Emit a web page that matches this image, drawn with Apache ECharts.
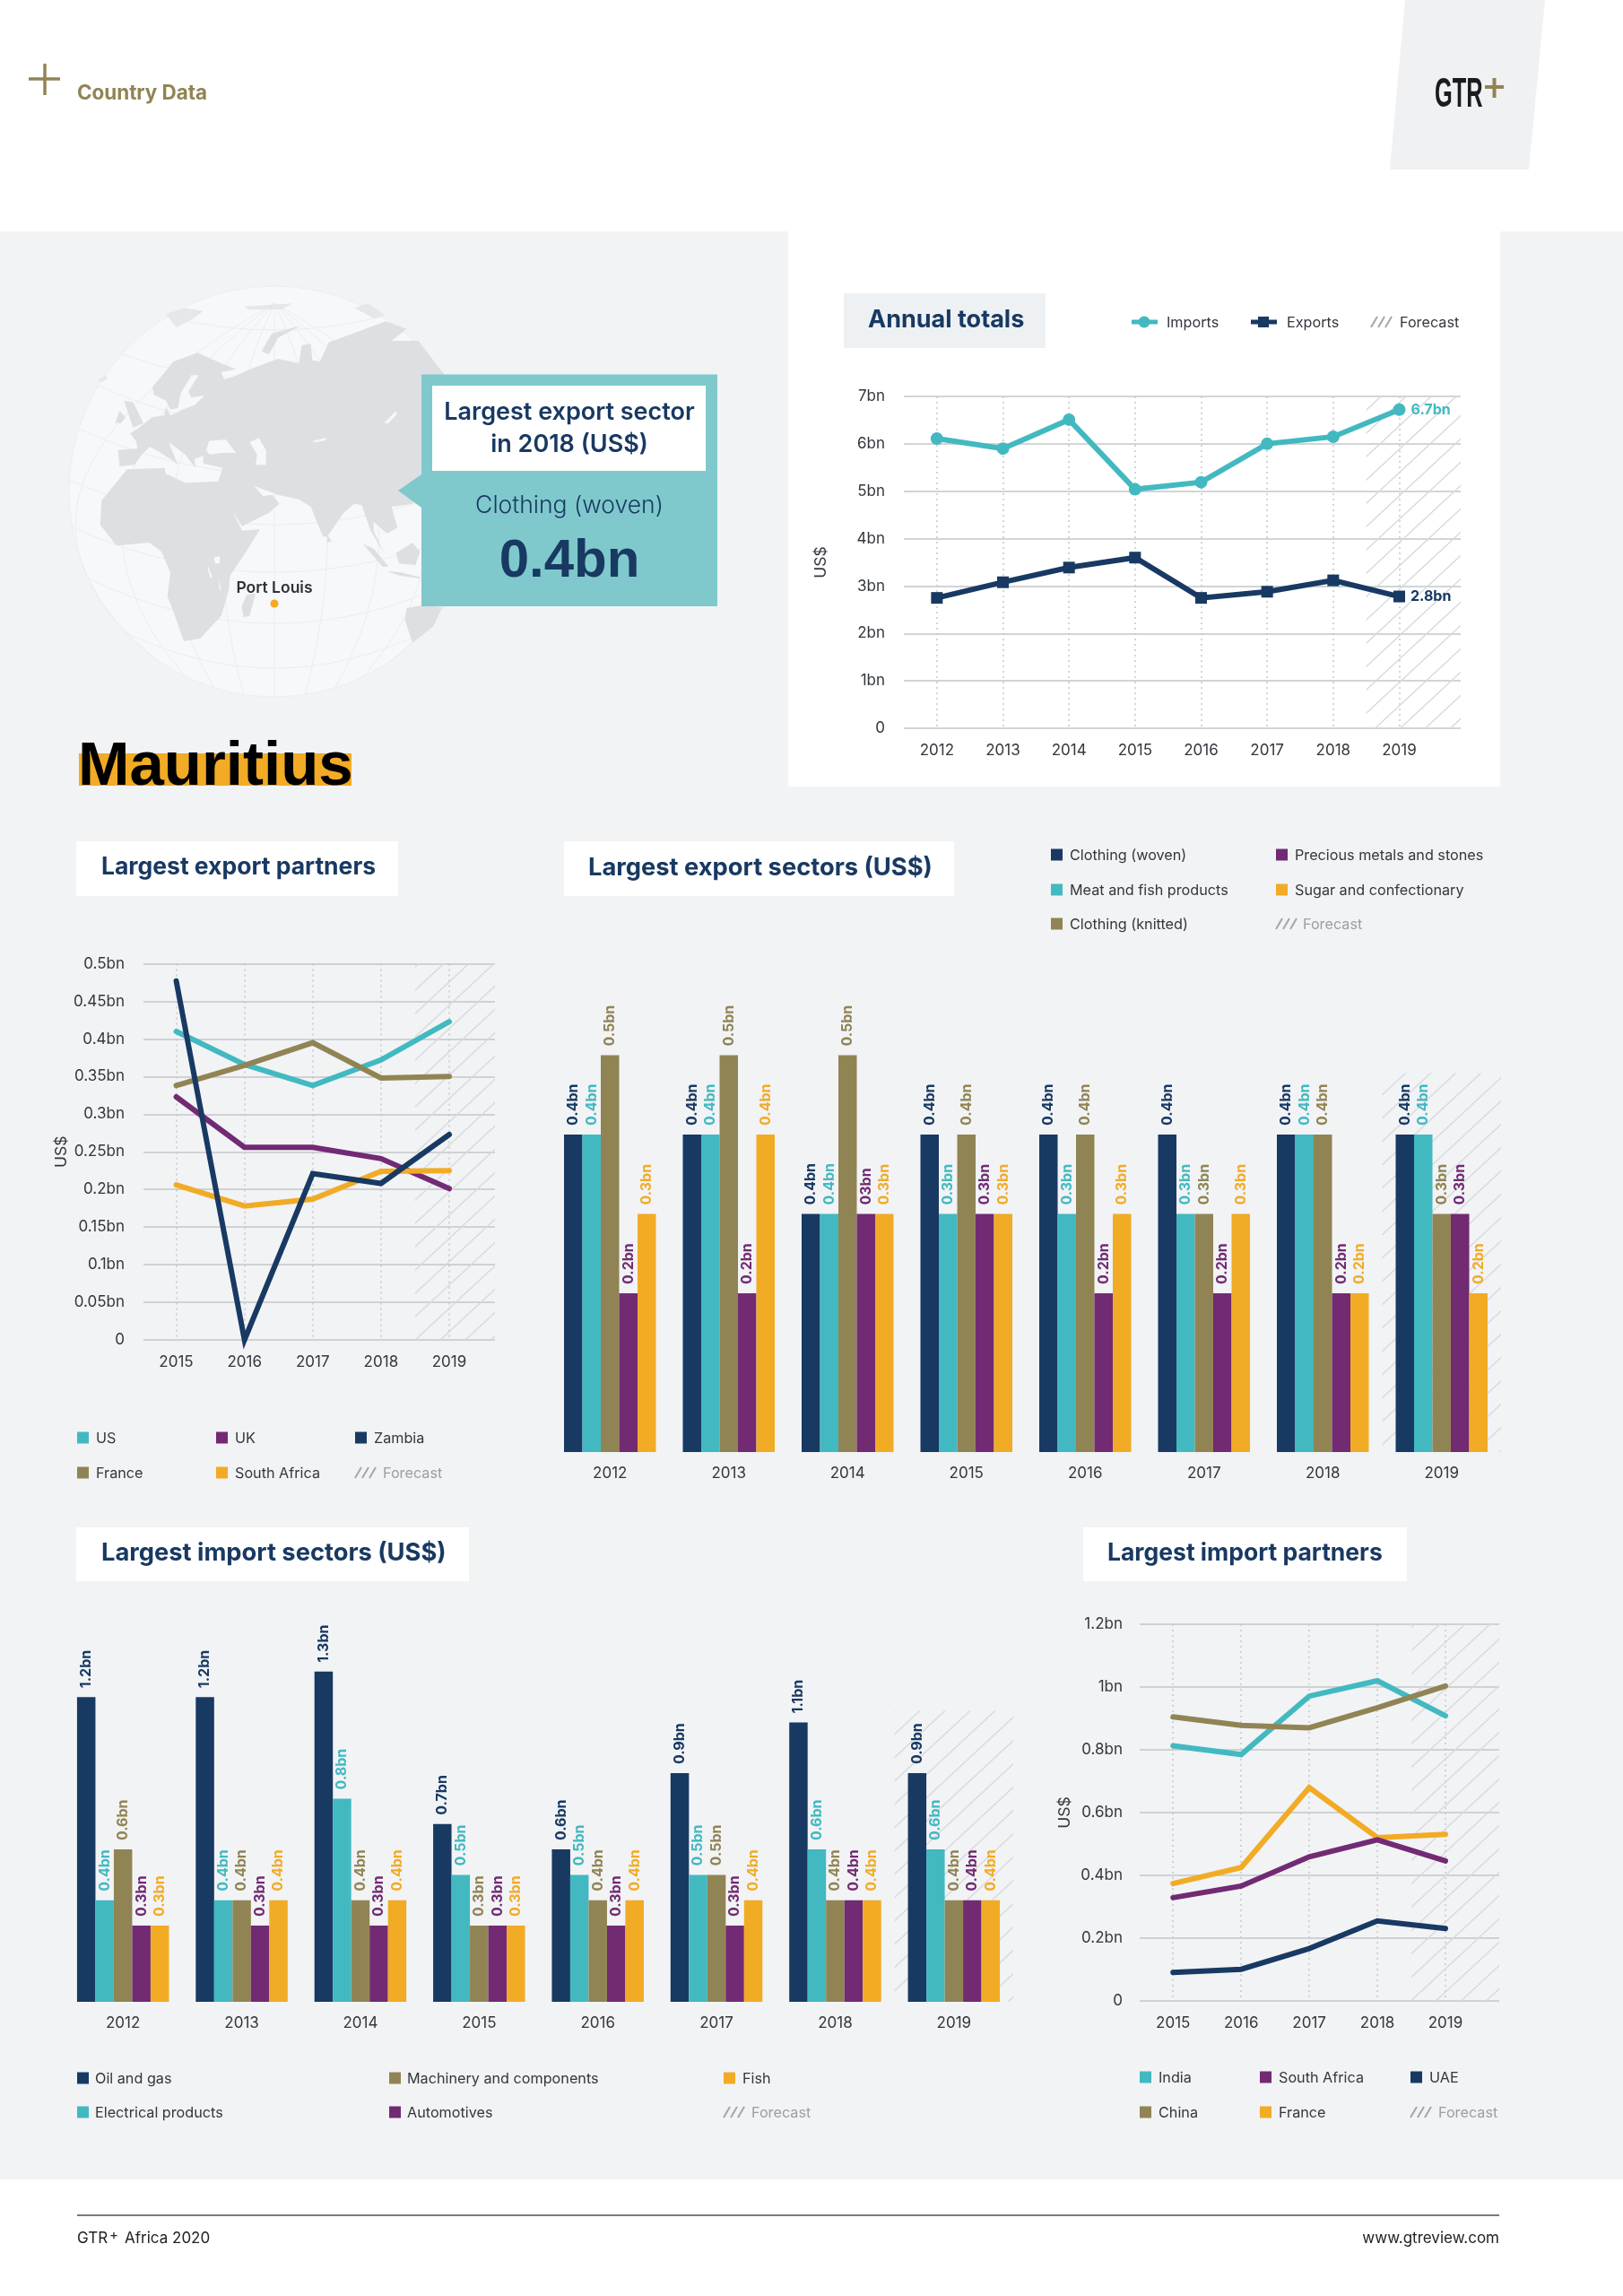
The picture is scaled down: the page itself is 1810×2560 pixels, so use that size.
<!DOCTYPE html>
<html>
<head>
<meta charset="utf-8">
<title>Mauritius country data</title>
<script src="https://cdn.jsdelivr.net/npm/echarts@6/dist/echarts.min.js"></script>
<style>
  html, body { margin: 0; padding: 0; background: #fff; }
  #main { width: 1810px; height: 2560px; }
</style>
</head>
<body>
<div id="main"></div>
<script>
const NAVY = '#183962', TEAL = '#42b9c1', OLIVE = '#918454', PURPLE = '#722a73', ORANGE = '#f2ab25';
const BG = '#f1f3f5', GRID_LINE = '#c3c6ca', TXT = '#33373d', FONT = 'Inter';

// annual totals
const annualYears = [2012, 2013, 2014, 2015, 2016, 2017, 2018, 2019];
const annualImports = [6.11, 5.9, 6.51, 5.04, 5.19, 6.0, 6.15, 6.72];
const annualExports = [2.75, 3.08, 3.39, 3.6, 2.75, 2.88, 3.12, 2.78];

// largest export partners
const partnerYears = [2015, 2016, 2017, 2018, 2019];
const expUS = [0.41, 0.366, 0.338, 0.372, 0.423];
const expFrance = [0.338, 0.365, 0.395, 0.348, 0.35];
const expUK = [0.323, 0.256, 0.256, 0.241, 0.201];
const expSouthAfrica = [0.206, 0.178, 0.187, 0.224, 0.225];
const expZambia = [0.477, 0, 0.221, 0.208, 0.273];

// largest import partners
const impIndia = [0.813, 0.785, 0.971, 1.02, 0.908];
const impChina = [0.905, 0.878, 0.87, 0.934, 1.003];
const impFrance = [0.374, 0.425, 0.68, 0.52, 0.531];
const impSouthAfrica = [0.329, 0.366, 0.459, 0.513, 0.446];
const impUAE = [0.091, 0.101, 0.167, 0.255, 0.231];

// largest export sectors: bar heights and the labels printed on them (these differ in 2014)
const barYears = ['2012', '2013', '2014', '2015', '2016', '2017', '2018', '2019'];
const secWoven = [0.4, 0.4, 0.3, 0.4, 0.4, 0.4, 0.4, 0.4];
const secMeat = [0.4, 0.4, 0.3, 0.3, 0.3, 0.3, 0.4, 0.4];
const secKnitted = [0.5, 0.5, 0.5, 0.4, 0.4, 0.3, 0.4, 0.3];
const secPrecious = [0.2, 0.2, 0.3, 0.3, 0.2, 0.2, 0.2, 0.3];
const secSugar = [0.3, 0.4, 0.3, 0.3, 0.3, 0.3, 0.2, 0.2];
const secWovenLabels = ['0.4bn', '0.4bn', '0.4bn', '0.4bn', '0.4bn', '0.4bn', '0.4bn', '0.4bn'];
const secMeatLabels = ['0.4bn', '0.4bn', '0.4bn', '0.3bn', '0.3bn', '0.3bn', '0.4bn', '0.4bn'];
const secKnittedLabels = ['0.5bn', '0.5bn', '0.5bn', '0.4bn', '0.4bn', '0.3bn', '0.4bn', '0.3bn'];
const secPreciousLabels = ['0.2bn', '0.2bn', '03bn', '0.3bn', '0.2bn', '0.2bn', '0.2bn', '0.3bn'];
const secSugarLabels = ['0.3bn', '0.4bn', '0.3bn', '0.3bn', '0.3bn', '0.3bn', '0.2bn', '0.2bn'];

// largest import sectors
const impOil = [1.2, 1.2, 1.3, 0.7, 0.6, 0.9, 1.1, 0.9];
const impElectrical = [0.4, 0.4, 0.8, 0.5, 0.5, 0.5, 0.6, 0.6];
const impMachinery = [0.6, 0.4, 0.4, 0.3, 0.4, 0.5, 0.4, 0.4];
const impAuto = [0.3, 0.3, 0.3, 0.3, 0.3, 0.3, 0.4, 0.4];
const impFish = [0.3, 0.4, 0.4, 0.3, 0.4, 0.4, 0.4, 0.4];

// repeated hatch tile for the forecast areas
function hatchTile() {
  const w = 28, h = 26;
  const c = document.createElement('canvas');
  c.width = w; c.height = h;
  const g = c.getContext('2d');
  g.strokeStyle = '#d8dadd';
  g.lineWidth = 1.4;
  g.beginPath();
  g.moveTo(-w, 2 * h); g.lineTo(2 * w, -h);
  g.moveTo(-w, h); g.lineTo(w, -h);
  g.moveTo(0, 2 * h); g.lineTo(2 * w, 0);
  g.stroke();
  return c;
}
const hatch = { image: hatchTile(), repeat: 'repeat' };

function bnLabel(v) {
  return v === 0 ? '0' : v + 'bn';
}

function valueAxis(gridIndex, max, interval, nameGap, margin) {
  return {
    type: 'value', gridIndex, min: 0, max, interval,
    name: 'US$', nameLocation: 'middle', nameRotate: 90, nameGap,
    nameTextStyle: { color: TXT, fontSize: 17.5, fontFamily: FONT },
    axisLine: { show: false }, axisTick: { show: false },
    axisLabel: { color: TXT, fontSize: 17, fontFamily: FONT, margin: margin || 21, formatter: bnLabel },
    splitLine: { lineStyle: { color: GRID_LINE, width: 1.5 } }
  };
}

// x is a value axis so the grid lines can run past the last year, as in the picture
function yearAxis(gridIndex, min, max, years) {
  return {
    type: 'value', gridIndex, min, max,
    axisLine: { show: false },
    axisTick: { show: false, customValues: years },
    axisLabel: { color: TXT, fontSize: 17, fontFamily: FONT, margin: 16, customValues: years, formatter: v => String(v) },
    splitLine: { show: true, lineStyle: { color: '#c6c8cb', type: [2, 4], width: 1.5 } }
  };
}

function barAxis(gridIndex) {
  return {
    type: 'category', gridIndex, data: barYears,
    axisLine: { show: false }, axisTick: { show: false },
    axisLabel: { color: TXT, fontSize: 17, fontFamily: FONT, margin: 15 },
    splitLine: { show: false }
  };
}

function bandAxis(gridIndex) {
  return { type: 'value', gridIndex, min: 0, max: barYears.length, show: false, splitLine: { show: false } };
}

function bareValueAxis(gridIndex, max) {
  return { type: 'value', gridIndex, min: 0, max, show: false, splitLine: { show: false } };
}

function lineSeries(name, years, vals, color, axisIndex, extra) {
  return Object.assign({
    name, type: 'line', xAxisIndex: axisIndex, yAxisIndex: axisIndex,
    data: years.map((y, i) => [y, vals[i]]),
    symbol: 'none', clip: false, z: 3,
    lineStyle: { color, width: 6, cap: 'round', join: 'miter' },
    itemStyle: { color }
  }, extra);
}

function forecastArea(x0, x1, y1) {
  return {
    silent: true, z: 1,
    itemStyle: { color: hatch, opacity: 1 },
    data: [[{ coord: [x0, y1] }, { coord: [x1, 0] }]]
  };
}

function barSeries(name, vals, labels, color, xIndex, yIndex) {
  return {
    name, type: 'bar', xAxisIndex: xIndex, yAxisIndex: yIndex, data: vals,
    barWidth: 20.5, barGap: 0, z: 3,
    itemStyle: { color },
    label: {
      show: true, position: 'top', rotate: 90, align: 'left', verticalAlign: 'middle', distance: 10,
      color, fontSize: 16, fontWeight: 700, fontFamily: FONT,
      formatter: p => labels[p.dataIndex]
    }
  };
}

function hatchSeries(xIndex, yIndex, y1) {
  return {
    type: 'line', xAxisIndex: xIndex, yAxisIndex: yIndex, data: [], silent: true,
    markArea: forecastArea(barYears.length - 1, barYears.length, y1)
  };
}

const endLabel = (text, color) => ({
  label: { show: true, position: 'right', distance: 6, formatter: text, color, fontSize: 16, fontWeight: 700, fontFamily: FONT }
});

// drawing helpers for everything around the charts
function rect(x, y, width, height, fill, z) {
  return { type: 'rect', shape: { x, y, width, height }, style: { fill }, z: z === undefined ? -10 : z, silent: true };
}
function stroke(x1, y1, x2, y2, color, lineWidth) {
  return { type: 'line', z: 20, silent: true, shape: { x1, y1, x2, y2 }, style: { stroke: color, lineWidth } };
}
function text(str, x, y, opts) {
  opts = opts || {};
  return {
    type: 'text', x, y, z: 20, silent: true, scaleX: opts.scaleX || 1,
    style: {
      text: str, fill: opts.fill || TXT, font: (opts.weight || 400) + ' ' + (opts.size || 16.2) + 'px ' + (opts.family || FONT),
      textAlign: opts.align || 'left', textVerticalAlign: 'middle'
    }
  };
}
function titleBox(str, x0, x1, y0, y1, textX, size, fill) {
  return [rect(x0, y0, x1 - x0, y1 - y0, fill || '#fff', -5), text(str, textX, (y0 + y1) / 2 - 1, { fill: NAVY, weight: 700, size })];
}
function hatchMark(x, y) {
  const out = [];
  [0, 8, 16].forEach(d => {
    out.push(stroke(x + d, y + 6, x + d + 7, y - 6, '#a4a6a9', 2));
  });
  return out;
}
function legendItem(label, color, x, y, textX) {
  return [rect(x, y - 6.5, 13, 13, color, 20), text(label, textX, y + 1)];
}
function forecastItem(x, y, textX, fill) {
  return hatchMark(x, y).concat(text('Forecast', textX, y + 1, { fill: fill || '#9c9ea1' }));
}

// map outlines, traced on a 3x crop of the globe and scaled back here
const gx = v => v / 3 + 70, gy = v => v / 3 + 315;
const landShapes = [
  // Eurasia
  [[185,560],[250,555],[245,530],[225,505],[250,490],[300,450],[340,445],[345,415],[360,445],[400,425],[440,410],[475,378],[430,385],[420,365],[455,310],[430,310],[395,370],[385,420],[360,425],[345,395],[305,375],[300,350],[370,265],[450,235],[530,270],[580,290],[530,300],[540,325],[570,315],[640,285],[720,255],[790,270],[800,210],[830,205],[835,260],[860,265],[890,200],[1000,160],[1080,130],[1150,155],[1100,195],[1190,195],[1270,300],[1290,320],[1210,640],[1170,740],[1100,750],[1120,820],[1085,840],[1040,800],[1040,830],[1075,905],[1030,830],[1000,745],[975,740],[940,770],[885,850],[870,850],[830,750],[790,725],[720,710],[640,680],[670,715],[700,710],[725,740],[690,770],[600,815],[515,680],[535,620],[470,605],[470,580],[440,590],[445,620],[420,590],[410,575],[355,535],[385,610],[375,600],[320,565],[290,550],[265,575],[240,610],[190,615]],
  // Africa
  [[215,625],[340,620],[345,640],[410,670],[530,665],[580,790],[600,830],[660,825],[620,890],[560,980],[555,1030],[530,1115],[460,1190],[405,1200],[370,1100],[350,1050],[360,970],[330,900],[290,870],[180,880],[125,810],[130,730]],
  [[615,1045],[645,1040],[625,1115],[605,1120],[598,1085]],
  [[205,395],[235,400],[270,470],[235,485],[220,440]],
  [[175,470],[190,430],[210,450],[195,470]],
  [[885,845],[900,865],[885,870]],
  [[1005,875],[1040,890],[1090,950],[1070,950]],
  [[1115,905],[1170,870],[1195,900],[1180,945],[1125,940]],
  [[1085,965],[1130,970],[1195,985],[1195,990],[1125,980]],
  [[1150,1090],[1200,1080],[1270,1085],[1240,1150],[1170,1205],[1145,1130]],
  [[665,230],[700,170],[795,145],[720,185],[690,240]]
];
const paleLandShapes = [
  [[345,105],[410,85],[470,95],[430,125],[380,150]],
  [[975,85],[1020,70],[1080,110],[1040,120]],
  [[120,325],[145,310],[150,320],[125,335]],
  [[610,80],[770,70],[730,90],[620,90]]
];
const waterShapes = [
  [[480,560],[490,530],[545,525],[580,570],[530,570],[490,575]],
  [[625,535],[655,520],[680,560],[680,610],[645,610],[650,575]],
  [[1075,470],[1115,430],[1118,440],[1090,470]],
  [[835,530],[880,520],[880,527],[845,535]],
  [[505,920],[525,915],[525,940],[510,940]],
  [[487,950],[500,985],[495,990],[485,960]],
  [[522,990],[530,1030],[525,1030]]
];
const GLOBE = { cx: 306, cy: 548, r: 229, poleY: 338 };
const meridianOffsets = [-215, -165, -113, -57, 0, 57, 113, 165, 215];
const parallelMids = [[368, 15], [425, 30], [475, 45], [528, 50], [585, 50], [638, 50], [695, 50], [745, 40]];

function polygons(shapes, fill, z) {
  return shapes.map(s => ({ type: 'polygon', z, silent: true, shape: { points: s.map(p => [gx(p[0]), gy(p[1])]) }, style: { fill } }));
}

function globeGraphics() {
  const g = GLOBE, lineStyle = { fill: 'none', stroke: '#ebedef', lineWidth: 1 };
  const out = [{ type: 'circle', z: -8, silent: true, shape: { cx: g.cx, cy: g.cy, r: g.r }, style: { fill: '#f7f8f9', stroke: '#eceef0', lineWidth: 1 } }];
  meridianOffsets.forEach(off => {
    const ex = off * 0.6, ey = g.cy + Math.sqrt(g.r * g.r - ex * ex);
    const cpx = (off - 0.25 * ex) * 2;
    out.push({ type: 'bezierCurve', z: -8, silent: true, shape: { x1: g.cx, y1: g.poleY, x2: g.cx + ex, y2: ey, cpx1: g.cx + cpx, cpy1: g.cy }, style: lineStyle });
  });
  parallelMids.forEach(p => {
    const y = p[0] - p[1], dy = y - g.cy, half = Math.sqrt(g.r * g.r - dy * dy);
    out.push({ type: 'bezierCurve', z: -8, silent: true, shape: { x1: g.cx - half, y1: y, x2: g.cx + half, y2: y, cpx1: g.cx, cpy1: p[0] + p[1] }, style: lineStyle });
  });
  return out.concat(polygons(paleLandShapes, '#e5e7e9', -7), polygons(landShapes, '#dddfe2', -7), polygons(waterShapes, '#f7f8f9', -6));
}

const graphics = [].concat(
  rect(0, 258, 1810, 2172, BG, -20),
  rect(879, 258, 794, 619, '#fff', -15),
  // header
  { type: 'polygon', z: -10, silent: true, shape: { points: [[1567, 0], [1723, 0], [1705, 189], [1550, 189]] }, style: { fill: '#eff1f3' } },
  text('GTR', 1600, 106, { fill: '#1b1c1e', size: 47, weight: 700, family: '"Liberation Sans"', scaleX: 0.54 }),
  stroke(1656, 97, 1677, 97, OLIVE, 4),
  stroke(1666.5, 87, 1666.5, 109, OLIVE, 4),
  stroke(32, 88, 67, 88, OLIVE, 3.5),
  stroke(50, 71, 50, 106, OLIVE, 3.5),
  text('Country Data', 86, 104, { fill: OLIVE, weight: 700, size: 22.4 }),
  // globe and callout
  globeGraphics(),
  rect(470, 417.5, 330, 258.5, '#7fc9cc', 10),
  { type: 'polygon', z: 10, silent: true, shape: { points: [[444, 547], [470, 529], [470, 566]] }, style: { fill: '#7fc9cc' } },
  rect(482, 430, 305, 95, '#fff', 11),
  text('Largest export sector', 635, 460, { fill: NAVY, weight: 600, size: 27, align: 'center' }),
  text('in 2018 (US$)', 635, 496, { fill: NAVY, weight: 600, size: 27, align: 'center' }),
  text('Clothing (woven)', 635, 564, { fill: NAVY, size: 26.5, weight: 300, align: 'center' }),
  text('0.4bn', 635, 626, { fill: NAVY, size: 60, weight: 700, align: 'center', family: '"Liberation Sans"' }),
  text('Port Louis', 306, 656, { fill: '#2f3338', weight: 600, size: 17.5, align: 'center' }),
  { type: 'circle', z: 20, silent: true, shape: { cx: 306, cy: 673, r: 4.5 }, style: { fill: ORANGE } },
  rect(88, 840, 304, 36, ORANGE, -5),
  text('Mauritius', 87, 856, { fill: '#000', size: 69, weight: 700, family: '"Liberation Sans"' }),
  // section titles
  titleBox('Annual totals', 941, 1166, 327, 388, 968, 27, '#eef1f4'),
  titleBox('Largest export partners', 85, 444, 938, 999, 113, 26.5),
  titleBox('Largest export sectors (US$)', 629, 1064, 938, 999, 656, 27.3),
  titleBox('Largest import sectors (US$)', 85, 523, 1703, 1763, 113, 27.3),
  titleBox('Largest import partners', 1208, 1569, 1703, 1763, 1235, 26.5),
  // annual legend
  stroke(1262, 359, 1291, 359, TEAL, 5),
  { type: 'circle', z: 20, silent: true, shape: { cx: 1276, cy: 359, r: 6.5 }, style: { fill: TEAL } },
  text('Imports', 1301, 360),
  stroke(1395, 359, 1424, 359, NAVY, 5),
  rect(1403, 353, 12, 12, NAVY, 20),
  text('Exports', 1435, 360),
  forecastItem(1529, 359, 1561, TXT),
  // export partners legend
  legendItem('US', TEAL, 86, 1603, 107),
  legendItem('France', OLIVE, 86, 1642, 107),
  legendItem('UK', PURPLE, 241, 1603, 262),
  legendItem('South Africa', ORANGE, 241, 1642, 262),
  legendItem('Zambia', NAVY, 396, 1603, 417),
  forecastItem(396, 1642, 427),
  // export sectors legend
  legendItem('Clothing (woven)', NAVY, 1172, 953, 1193),
  legendItem('Meat and fish products', TEAL, 1172, 992, 1193),
  legendItem('Clothing (knitted)', OLIVE, 1172, 1030, 1193),
  legendItem('Precious metals and stones', PURPLE, 1423, 953, 1444),
  legendItem('Sugar and confectionary', ORANGE, 1423, 992, 1444),
  forecastItem(1423, 1030, 1453),
  // import sectors legend
  legendItem('Oil and gas', NAVY, 86, 2317, 106),
  legendItem('Electrical products', TEAL, 86, 2355, 106),
  legendItem('Machinery and components', OLIVE, 434, 2317, 454),
  legendItem('Automotives', PURPLE, 434, 2355, 454),
  legendItem('Fish', ORANGE, 807, 2317, 828),
  forecastItem(807, 2355, 838),
  // import partners legend
  legendItem('India', TEAL, 1271, 2316, 1292),
  legendItem('China', OLIVE, 1271, 2355, 1292),
  legendItem('South Africa', PURPLE, 1405, 2316, 1426),
  legendItem('France', ORANGE, 1405, 2355, 1426),
  legendItem('UAE', NAVY, 1573, 2316, 1594),
  forecastItem(1573, 2355, 1604),
  // footer
  stroke(86, 2470, 1672, 2470, '#4a4c50', 1.5),
  text('GTR', 86, 2496, { size: 17, fill: '#222' }),
  text('+', 122, 2492, { size: 15, fill: '#222' }),
  text('Africa 2020', 139, 2496, { size: 17, fill: '#222' }),
  text('www.gtreview.com', 1672, 2496, { size: 17, fill: '#222', align: 'right' })
);

const exportsData = annualExports.map((v, i) => [annualYears[i], v]);
const importsData = annualImports.map((v, i) => [annualYears[i], v]);
const lastPoint = annualYears.length - 1;

const option = {
  animation: false,
  textStyle: { fontFamily: FONT },
  graphic: { elements: graphics },
  grid: [
    { left: 1008, top: 442, width: 621, height: 370 },
    { left: 160, top: 1074.5, width: 392, height: 419.5 },
    { left: 614, top: 1176.5, width: 1060, height: 442.5 },
    { left: 71, top: 1835.5, width: 1059, height: 396.5 },
    { left: 1271, top: 1811, width: 401, height: 420 }
  ],
  xAxis: [
    yearAxis(0, 2011.5, 2019.93, annualYears),
    yearAxis(1, 2014.52, 2019.67, partnerYears),
    barAxis(2),
    barAxis(3),
    yearAxis(4, 2014.51, 2019.79, partnerYears),
    bandAxis(2),
    bandAxis(3)
  ],
  yAxis: [
    valueAxis(0, 7, 1, 83),
    valueAxis(1, 0.5, 0.05, 78),
    bareValueAxis(2, 0.5),
    bareValueAxis(3, 1.4),
    valueAxis(4, 1.2, 0.2, 74, 19)
  ],
  series: [
    lineSeries('Imports', annualYears, annualImports, TEAL, 0, {
      symbol: 'circle', symbolSize: 14,
      data: importsData.map((d, i) => i === lastPoint ? Object.assign(endLabel('6.7bn', TEAL), { value: d }) : d),
      markArea: forecastArea(2018.5, 2019.93, 7)
    }),
    lineSeries('Exports', annualYears, annualExports, NAVY, 0, {
      symbol: 'rect', symbolSize: 13,
      data: exportsData.map((d, i) => i === lastPoint ? Object.assign(endLabel('2.8bn', NAVY), { value: d }) : d)
    }),

    lineSeries('US', partnerYears, expUS, TEAL, 1, { markArea: forecastArea(2018.5, 2019.67, 0.5) }),
    lineSeries('France', partnerYears, expFrance, OLIVE, 1),
    lineSeries('UK', partnerYears, expUK, PURPLE, 1),
    lineSeries('South Africa', partnerYears, expSouthAfrica, ORANGE, 1),
    lineSeries('Zambia', partnerYears, expZambia, NAVY, 1),

    hatchSeries(5, 2, 0.4775),
    barSeries('Clothing (woven)', secWoven, secWovenLabels, NAVY, 2, 2),
    barSeries('Meat and fish products', secMeat, secMeatLabels, TEAL, 2, 2),
    barSeries('Clothing (knitted)', secKnitted, secKnittedLabels, OLIVE, 2, 2),
    barSeries('Precious metals and stones', secPrecious, secPreciousLabels, PURPLE, 2, 2),
    barSeries('Sugar and confectionary', secSugar, secSugarLabels, ORANGE, 2, 2),

    hatchSeries(6, 3, 1.146),
    barSeries('Oil and gas', impOil, impOil.map(v => v + 'bn'), NAVY, 3, 3),
    barSeries('Electrical products', impElectrical, impElectrical.map(v => v + 'bn'), TEAL, 3, 3),
    barSeries('Machinery and components', impMachinery, impMachinery.map(v => v + 'bn'), OLIVE, 3, 3),
    barSeries('Automotives', impAuto, impAuto.map(v => v + 'bn'), PURPLE, 3, 3),
    barSeries('Fish', impFish, impFish.map(v => v + 'bn'), ORANGE, 3, 3),

    lineSeries('India', partnerYears, impIndia, TEAL, 4, { markArea: forecastArea(2018.5, 2019.79, 1.2) }),
    lineSeries('China', partnerYears, impChina, OLIVE, 4),
    lineSeries('France ', partnerYears, impFrance, ORANGE, 4),
    lineSeries('South Africa ', partnerYears, impSouthAfrica, PURPLE, 4),
    lineSeries('UAE', partnerYears, impUAE, NAVY, 4)
  ]
};

const chart = echarts.init(document.getElementById('main'));
chart.setOption(option);
</script>
</body>
</html>
